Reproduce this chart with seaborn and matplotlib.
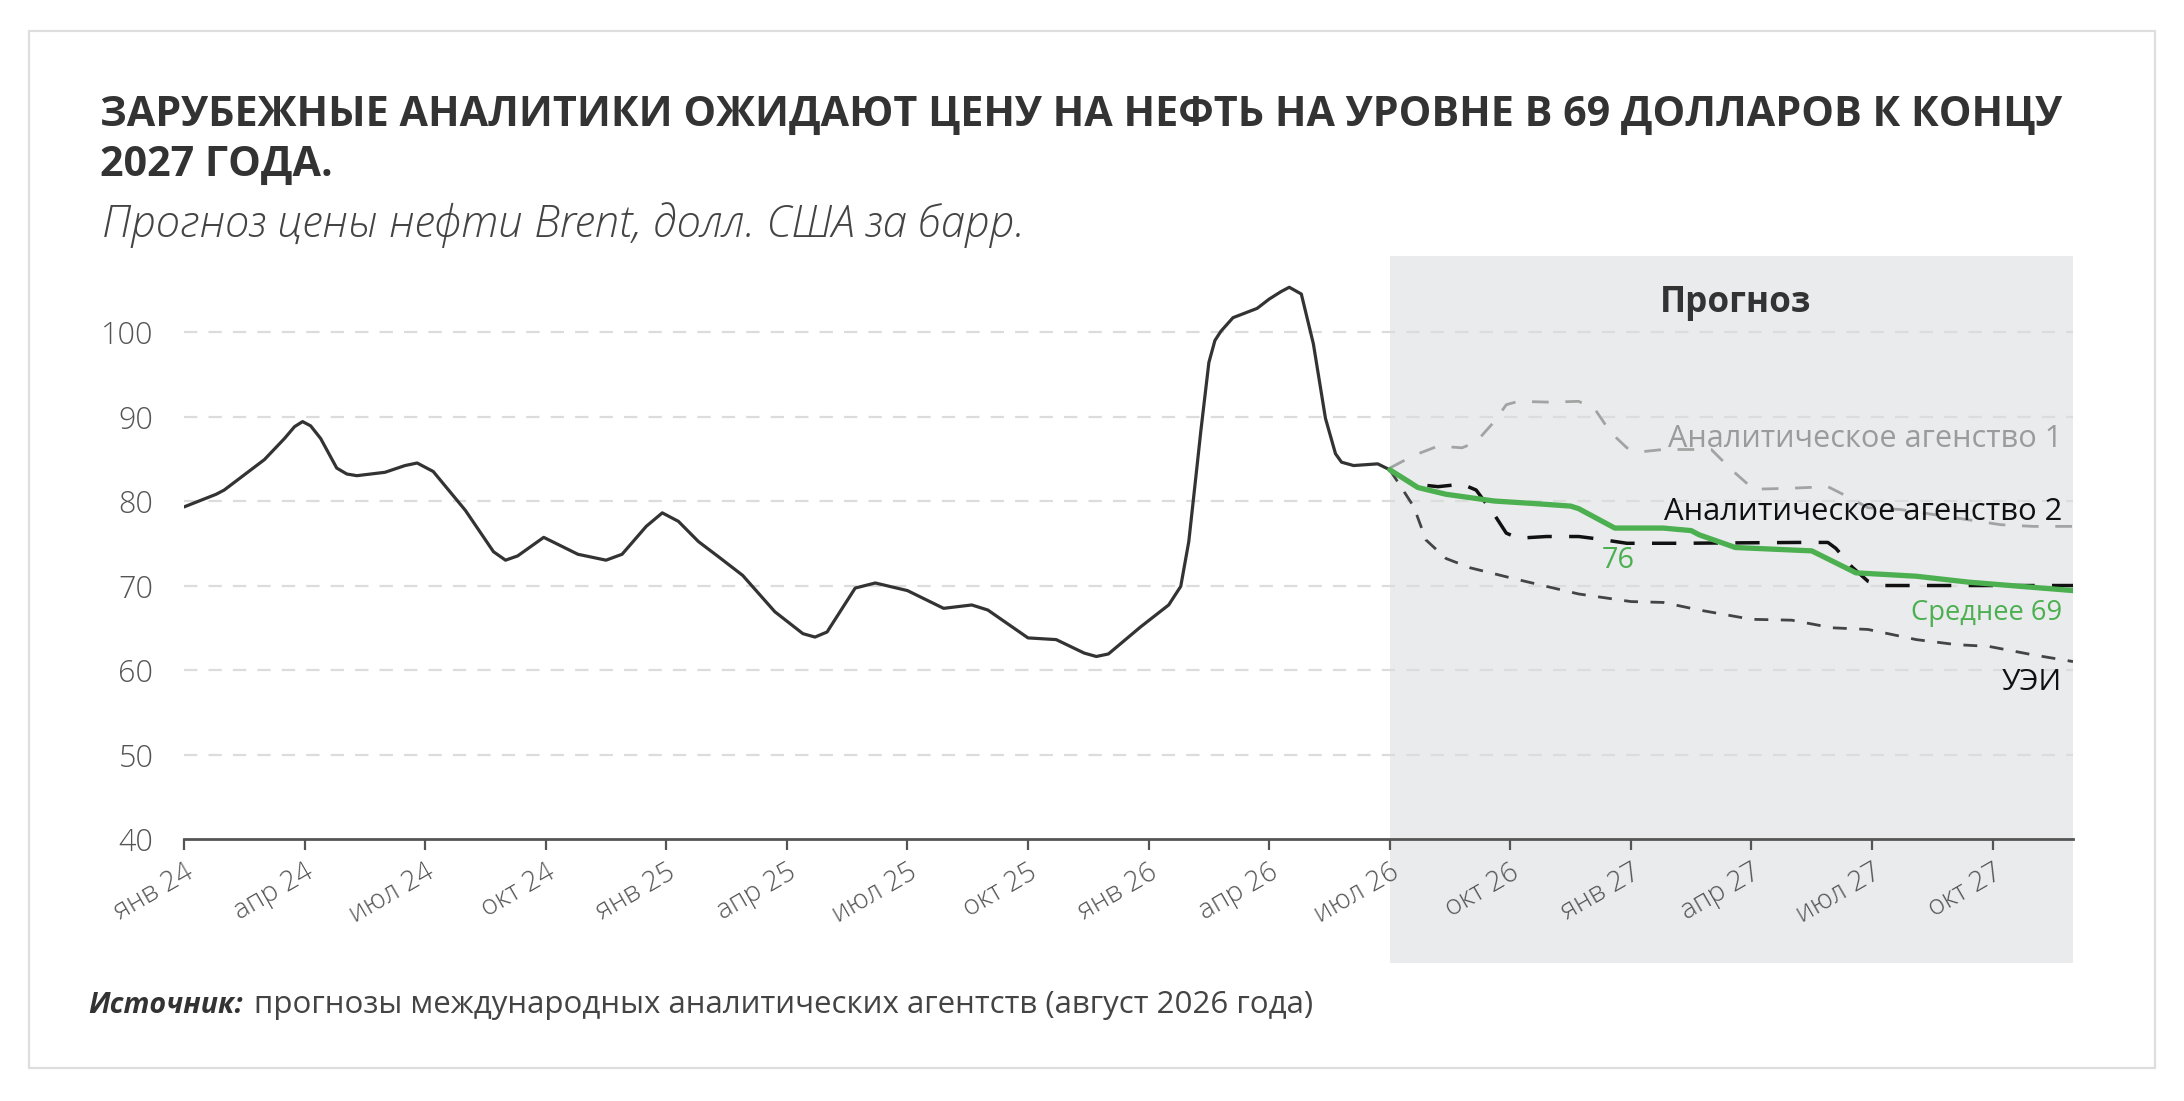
import matplotlib
matplotlib.use("Agg")
import matplotlib.pyplot as plt
from matplotlib.patches import Rectangle
import seaborn as sns
import pandas as pd

# ---------------- data ----------------
tick_labels = ["янв 24", "апр 24", "июл 24", "окт 24", "янв 25", "апр 25", "июл 25",
               "окт 25", "янв 26", "апр 26", "июл 26", "окт 26", "янв 27", "апр 27",
               "июл 27", "окт 27"]

# months since Jan 2024
hist_m = [0, 0.8, 1.0, 2.0, 2.5, 2.75, 2.95, 3.15, 3.4, 3.8, 4.05, 4.3, 5.0, 5.5, 5.8,
          6.2, 7.0, 7.7, 8.0, 8.3, 8.95, 9.8, 10.5, 10.9, 11.5, 11.9, 12.3, 12.8, 13.3,
          13.9, 14.7, 15.4, 15.7, 16.0, 16.7, 17.2, 18.0, 18.9, 19.6, 20.0, 21.0, 21.7,
          22.4, 22.7, 23.0, 23.8, 24.5, 24.8, 25.0, 25.2, 25.3, 25.5, 25.65, 25.8,
          26.1, 26.7, 27.0, 27.3, 27.5, 27.8, 28.1, 28.4, 28.65, 28.8, 29.1, 29.7, 30.0]
hist_v = [79.3, 80.8, 81.3, 84.9, 87.4, 88.8, 89.4, 88.9, 87.4, 83.9, 83.2, 83.0, 83.4,
          84.2, 84.5, 83.5, 78.9, 74.0, 73.0, 73.5, 75.7, 73.7, 73.0, 73.7, 77.0, 78.6,
          77.6, 75.2, 73.4, 71.2, 66.9, 64.3, 63.9, 64.5, 69.7, 70.3, 69.4, 67.3, 67.7,
          67.1, 63.8, 63.6, 62.0, 61.6, 61.9, 65.1, 67.7, 69.9, 75.2, 83.9, 88.3, 96.4,
          99.0, 100.1, 101.7, 102.8, 103.9, 104.8, 105.3, 104.5, 98.6, 89.8, 85.6,
          84.6, 84.2, 84.4, 83.7]

ag1_m = [30.0, 30.6, 31.2, 31.8, 32.15, 32.6, 32.9, 33.2, 34.0, 34.7, 35.1, 35.5, 35.9,
         36.2, 36.8, 38.0, 38.55, 39.05, 39.9, 40.9, 41.4, 41.9, 42.7, 45.2, 46.0, 47.0]
ag1_v = [83.9, 85.4, 86.5, 86.3, 87.0, 89.4, 91.4, 91.8, 91.7, 91.8, 90.9, 88.1, 86.3,
         85.8, 86.1, 86.1, 83.5, 81.4, 81.5, 81.7, 80.5, 79.2, 79.0, 77.2, 77.0, 77.0]

ag2_m = [30.0, 30.6, 31.2, 31.8, 32.15, 32.6, 32.9, 33.2, 33.9, 34.7, 35.2, 35.9, 37.2,
         40.2, 40.9, 41.1, 41.5, 41.9, 42.2, 47.0]
ag2_v = [83.7, 82.0, 81.7, 82.0, 81.3, 78.4, 76.2, 75.6, 75.8, 75.8, 75.5, 75.0, 75.0,
         75.1, 75.1, 74.4, 72.2, 70.5, 70.0, 70.0]

uei_m = [30.0, 30.25, 30.6, 30.9, 31.4, 32.0, 33.1, 33.9, 34.7, 36.0, 36.8, 37.7, 39.0,
         40.0, 41.0, 41.9, 43.1, 44.1, 44.9, 46.0, 47.0]
uei_v = [83.7, 81.9, 79.3, 75.4, 73.2, 72.1, 70.8, 69.9, 69.0, 68.1, 68.0, 67.1, 66.0,
         65.9, 65.0, 64.8, 63.6, 63.0, 62.8, 61.8, 61.0]

avg_m = [30.0, 30.7, 31.4, 32.6, 33.6, 34.5, 34.7, 35.6, 36.8, 37.5, 37.7, 38.6, 40.5,
         41.6, 43.1, 44.4, 47.0]
avg_v = [83.7, 81.6, 80.8, 80.0, 79.7, 79.4, 79.1, 76.8, 76.8, 76.5, 76.0, 74.5, 74.1,
         71.5, 71.1, 70.4, 69.4]

# ---------------- figure ----------------
W, H = 2184, 1101
sns.set_theme(style="white")
plt.rcParams["font.family"] = ["Open Sans", "DejaVu Sans"]

fig = plt.figure(figsize=(W / 100, H / 100), dpi=100)
fig.patch.set_facecolor("white")

# outer border
fig.patches.append(Rectangle((29 / W, 1 - 1068 / H), (2155 - 29) / W, (1068 - 31) / H,
                             transform=fig.transFigure, fill=False,
                             edgecolor="#dedede", linewidth=1.6))

ax = fig.add_axes([184 / W, 1 - 839 / H, (2073 - 184) / W, (839 - 256) / H])
ax.set_xlim(0, 47)
ax.set_ylim(40, 109)

# forecast shading
ax.add_patch(Rectangle((30, 25.3), 17, 109 - 25.3, facecolor="#e9ebed",
                       edgecolor="none", clip_on=False, zorder=0))

# grid
for v in [50, 60, 70, 80, 90, 100]:
    ax.axhline(v, color="#dcdcdc", linewidth=1.6, linestyle=(0, (6, 5)), zorder=1)

df_hist = pd.DataFrame({"m": hist_m, "v": hist_v})
sns.lineplot(data=df_hist, x="m", y="v", ax=ax, color="#333333", linewidth=2.3,
             zorder=5, sort=False, solid_joinstyle="round")
sns.lineplot(x=ag1_m, y=ag1_v, ax=ax, color="#a3a3a3", linewidth=2.0,
             linestyle=(0, (6, 6)), zorder=4, sort=False)
sns.lineplot(x=uei_m, y=uei_v, ax=ax, color="#444444", linewidth=2.0,
             linestyle=(0, (5, 4.5)), zorder=4, sort=False)
sns.lineplot(x=ag2_m, y=ag2_v, ax=ax, color="#111111", linewidth=2.5,
             linestyle=(0, (7, 5)), zorder=4, sort=False)
sns.lineplot(x=avg_m, y=avg_v, ax=ax, color="#4caf50", linewidth=3.8,
             zorder=6, sort=False, solid_joinstyle="round")

# axes styling
for s in ["top", "right", "left"]:
    ax.spines[s].set_visible(False)
ax.spines["bottom"].set_color("#555555")
ax.spines["bottom"].set_linewidth(2.0)
ax.spines["bottom"].set_zorder(7)
ax.set_facecolor("none")
ax.set_xlabel("")
ax.set_ylabel("")

ax.set_yticks([40, 50, 60, 70, 80, 90, 100])
ax.set_yticklabels(["40", "50", "60", "70", "80", "90", "100"], fontweight="light")
ax.tick_params(axis="y", length=0, pad=22, labelsize=22, labelcolor="#555555")
ax.set_xticks(list(range(0, 46, 3)))
ax.set_xticklabels(tick_labels, rotation=30, ha="right", rotation_mode="anchor",
                   fontweight="light")
ax.tick_params(axis="x", direction="out", length=8, width=1.6, color="#555555",
               labelsize=20, labelcolor="#555555", pad=6, bottom=True)

# in-chart labels
lab_prog = ax.text(38.6, 102.4, "Прогноз", ha="center", va="baseline", fontsize=22,
                   fontweight="bold", color="#333333", zorder=8)
lab_a1 = ax.text(46.73, 86.4, "Аналитическое агенство 1", ha="right", va="baseline",
                 fontsize=19, color="#9b9b9b", zorder=8)
lab_a2 = ax.text(46.73, 77.75, "Аналитическое агенство 2", ha="right", va="baseline",
                 fontsize=19, color="#111111", zorder=8)
lab_76 = ax.text(35.68, 72.1, "76", ha="center", va="baseline", fontsize=18,
                 color="#4caf50", zorder=8)
lab_avg = ax.text(46.73, 65.9, "Среднее 69", ha="right", va="baseline", fontsize=16,
                  color="#4caf50", zorder=8)
lab_uei = ax.text(46.73, 57.6, "УЭИ", ha="right", va="baseline", fontsize=19,
                  color="#111111", zorder=8)

# titles
t1 = fig.text(100 / W, 1 - 126 / H,
              "ЗАРУБЕЖНЫЕ АНАЛИТИКИ ОЖИДАЮТ ЦЕНУ НА НЕФТЬ НА УРОВНЕ В 69 ДОЛЛАРОВ К КОНЦУ",
              ha="left", va="baseline", fontsize=28, fontweight="bold", color="#333333")
t2 = fig.text(100 / W, 1 - 176 / H, "2027 ГОДА.", ha="left", va="baseline",
              fontsize=28, fontweight="bold", color="#333333")
t3 = fig.text(102 / W, 1 - 237 / H, "Прогноз цены нефти Brent, долл. США за барр.",
              ha="left", va="baseline", fontsize=24, fontstyle="italic",
              fontweight="light", color="#444444")
s1 = fig.text(88 / W, 1 - 1013 / H, "Источник:", ha="left", va="baseline",
              fontsize=18, fontstyle="italic", fontweight="bold", color="#333333")

fig.canvas.draw()
r = fig.canvas.get_renderer()


def fit(t, target):
    w = t.get_window_extent(r).width
    t.set_fontsize(t.get_fontsize() * target / w)


fit(t1, 2058 - 100)
t2.set_fontsize(t1.get_fontsize())
fit(t3, 1026 - 102)
fit(s1, 243 - 88)
fit(lab_prog, 151)
fit(lab_a1, 394)
fit(lab_a2, 399)
fit(lab_76, 33)
fit(lab_avg, 152)
fit(lab_uei, 60)
fig.canvas.draw()
bb = s1.get_window_extent(r)
s2 = fig.text((bb.x1 + 11) / W, 1 - 1013 / H,
              "прогнозы международных аналитических агентств (август 2026 года)",
              ha="left", va="baseline", fontsize=18, color="#444444")
fig.canvas.draw()
fit(s2, 1313 - bb.x1 - 11)

fig.savefig("out.png", dpi=100, facecolor="white")
